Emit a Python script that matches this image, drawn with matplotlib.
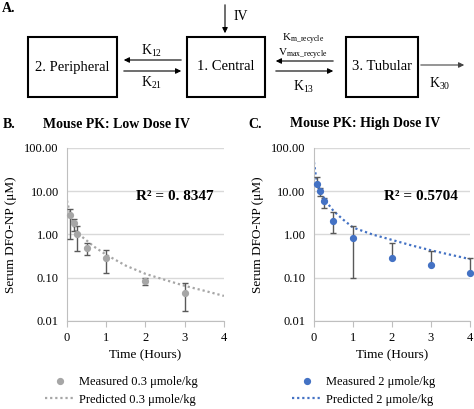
import matplotlib.pyplot as plt
from matplotlib.patches import Rectangle
from matplotlib.ticker import NullLocator

plt.rcParams['font.family'] = 'Liberation Serif'
plt.rcParams['mathtext.fontset'] = 'stix'

# Panel B: low dose (0.3 umole/kg)
low_t = [0.083, 0.167, 0.25, 0.5, 1, 2, 3]
low_conc = [2.75, 1.8, 1.05, 0.49, 0.28, 0.085, 0.045]
low_lo = [0.8, 1.2, 0.41, 0.33, 0.13, 0.069, 0.017]
low_hi = [3.9, 2.3, 1.6, 0.63, 0.44, 0.099, 0.074]
low_pred_t = [0, 0.05, 0.1, 0.2, 0.34, 0.53, 0.68, 1, 1.5, 2, 2.5, 3, 3.5, 4]
low_pred = [6.1, 3.8, 2.6, 1.25, 0.95, 0.69, 0.53, 0.34, 0.19, 0.123, 0.089, 0.065, 0.05, 0.038]

# Panel C: high dose (2 umole/kg)
high_t = [0.083, 0.167, 0.25, 0.5, 1, 2, 3, 4]
high_conc = [14.9, 10.1, 5.8, 2.1, 0.84, 0.28, 0.195, 0.13]
high_lo = [14.9, 7.7, 4.1, 1.07, 0.1, 0.28, 0.195, 0.13]
high_hi = [21.0, 12.0, 7.0, 3.3, 1.53, 0.63, 0.41, 0.28]
high_pred_t = [0, 0.05, 0.1, 0.2, 0.3, 0.5, 0.75, 1, 1.5, 2, 2.5, 3, 3.5, 4]
high_pred = [47, 22, 14, 8.5, 6.0, 3.5, 2.2, 1.45, 1.0, 0.75, 0.56, 0.43, 0.34, 0.27]

y_ticks = [0.01, 0.1, 1, 10, 100]
y_labels = ['0.01', '0.10', '1.00', '10.00', '100.00']
x_ticks = [0, 1, 2, 3, 4]

fig = plt.figure(figsize=(4.74, 4.09), dpi=100)

# ---- diagram (panel A) and panel captions, drawn in pixel coordinates ----
ov = fig.add_axes([0, 0, 1, 1])
ov.set_xlim(0, 474)
ov.set_ylim(409, 0)
ov.axis('off')

ov.text(2, 9, 'A.', fontsize=10, fontweight='bold', va='center')
boxes = [(28, 117, '2. Peripheral'), (187, 265, '1. Central'), (346, 418, '3. Tubular')]
for x0, x1, name in boxes:
    ov.add_patch(Rectangle((x0, 37), x1 - x0, 60, fill=False, ec='black', lw=1.5))
    ov.text((x0 + x1) / 2, 67, name, fontsize=10.5, ha='center', va='center')

arrow = dict(arrowstyle='-|>', color='black', lw=0.8, mutation_scale=8)
ov.annotate('', xy=(225, 36), xytext=(225, 2), arrowprops=arrow)
ov.text(234, 17, 'IV', fontsize=10, va='center')
ov.annotate('', xy=(121, 60), xytext=(184, 60), arrowprops=arrow)
ov.annotate('', xy=(184, 71), xytext=(121, 71), arrowprops=arrow)
ov.text(152, 51, r'$\mathregular{K_{12}}$', fontsize=10, ha='center', va='center')
ov.text(152, 83, r'$\mathregular{K_{21}}$', fontsize=10, ha='center', va='center')
ov.annotate('', xy=(273, 61), xytext=(336, 61), arrowprops=arrow)
ov.annotate('', xy=(336, 71), xytext=(273, 71), arrowprops=arrow)
ov.text(303, 39, r'$\mathregular{K_{m\_recycle}}$', fontsize=8, ha='center', va='center')
ov.text(303, 54, r'$\mathregular{V_{max\_recycle}}$', fontsize=8, ha='center', va='center')
ov.text(304, 87, r'$\mathregular{K_{13}}$', fontsize=10, ha='center', va='center')
ov.annotate('', xy=(467, 65), xytext=(418, 65), arrowprops=dict(arrowstyle='-|>', color='#444444', lw=0.8, mutation_scale=8))
ov.text(440, 84, r'$\mathregular{K_{30}}$', fontsize=10, ha='center', va='center')

ov.text(3, 124, 'B.', fontsize=10, fontweight='bold', va='center')
ov.text(43, 124, 'Mouse PK: Low Dose IV', fontsize=10, fontweight='bold', va='center')
ov.text(248, 124, 'C.', fontsize=10, fontweight='bold', va='center')
ov.text(290, 124, 'Mouse PK: High Dose IV', fontsize=10, fontweight='bold', va='center')


def panel(rect, t, c, lo, hi, pt, pc, color, r2, dose):
    ax = fig.add_axes(rect)
    yerr = [[ci - l for ci, l in zip(c, lo)], [h - ci for ci, h in zip(c, hi)]]
    ax.errorbar(t, c, yerr=yerr, fmt='none', ecolor='#595959', elinewidth=1,
                capsize=2, capthick=1, zorder=3, clip_on=False)
    ax.plot(t, c, 'o', color=color, ms=4.2, zorder=4, clip_on=False,
            label=f'Measured {dose} μmole/kg')
    ax.plot(pt, pc, linestyle=(0, (1, 1.3)), color=color, lw=1.6, zorder=2,
            label=f'Predicted {dose} μmole/kg')
    ax.set_yscale('log')
    ax.set_ylim(0.01, 100)
    ax.set_xlim(0, 4)
    ax.set_yticks(y_ticks)
    ax.set_yticklabels(y_labels)
    ax.yaxis.set_minor_locator(NullLocator())
    ax.set_xticks(x_ticks)
    ax.yaxis.grid(True, color='#d9d9d9', lw=1)
    ax.set_axisbelow(True)
    for s in ['top', 'right']:
        ax.spines[s].set_visible(False)
    for s in ['left', 'bottom']:
        ax.spines[s].set_color('#bfbfbf')
    ax.tick_params(axis='y', length=0, labelsize=9, pad=6)
    ax.tick_params(axis='x', length=4, color='#bfbfbf', labelsize=9, pad=4)
    ax.set_xlabel('Time (Hours)', fontsize=9.5, labelpad=4)
    ax.set_ylabel('Serum DFO-NP (μM)', fontsize=9.5, labelpad=5)
    ax.text(2.75, 7.5, r2, fontsize=11, fontweight='bold', ha='center', va='center')
    ax.legend(loc='upper left', bbox_to_anchor=(-0.17, -0.29), frameon=False,
              fontsize=9, handlelength=2.4, handletextpad=0.3, labelspacing=0.45,
              borderaxespad=0)
    return ax


panel([0.1414, 0.2152, 0.331, 0.423], low_t, low_conc, low_lo, low_hi,
      low_pred_t, low_pred, '#a6a6a6', 'R² = 0. 8347', '0.3')
panel([0.6624, 0.2152, 0.329, 0.423], high_t, high_conc, high_lo, high_hi,
      high_pred_t, high_pred, '#4472c4', 'R² = 0.5704', '2')

fig.savefig('out.png', dpi=100)
